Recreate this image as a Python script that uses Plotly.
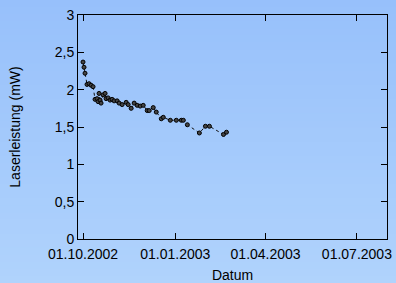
import plotly.graph_objects as go
import datetime as dt

# ---- data ----
start = dt.date(2002, 10, 1)
day_offsets = [0, 1, 2, 4, 6, 8, 10, 12, 14, 15, 16, 17, 18, 20, 22, 23, 25, 27, 29,
               31, 34, 36, 39, 43, 45, 48, 51, 54, 57, 60, 64, 66, 70, 73, 78, 80,
               87, 93, 98, 100, 104, 116, 122, 126, 140, 143]
power_mw = [2.37, 2.30, 2.22, 2.07, 2.08, 2.06, 2.04, 1.87, 1.88, 1.84, 1.95, 1.86,
            1.82, 1.93, 1.95, 1.88, 1.89, 1.86, 1.87, 1.85, 1.85, 1.82, 1.80, 1.83,
            1.80, 1.75, 1.82, 1.79, 1.78, 1.79, 1.72, 1.72, 1.76, 1.70, 1.61, 1.63,
            1.59, 1.59, 1.59, 1.59, 1.53, 1.42, 1.51, 1.51, 1.40, 1.43]
dates = [start + dt.timedelta(days=d) for d in day_offsets]

x_tickvals = ["2002-10-01", "2003-01-01", "2003-04-01", "2003-07-01"]
x_ticktext = ["01.10.2002", "01.01.2003", "01.04.2003", "01.07.2003"]
y_tickvals = [0, 0.5, 1, 1.5, 2, 2.5, 3]
y_ticktext = ["0", "0,5", "1", "1,5", "2", "2,5", "3"]

fig = go.Figure()
fig.add_trace(go.Scatter(
    x=dates, y=power_mw, mode="lines+markers",
    line=dict(color="#111111", width=1, dash="3px,3px"),
    marker=dict(symbol="circle", size=4, color="#444444",
                line=dict(color="#000000", width=1)),
    showlegend=False,
))

# vertical gradient background
W, H = 396, 283
ml, mr, mt, mb = 78, 9, 15, 44
ph = H - mt - mb
top_c = (0x97, 0xc0, 0xfb)
bot_c = (0xb0, 0xd3, 0xfc)
n = 40
shapes = []
for i in range(n):
    p0 = i * H / n
    p1 = (i + 1) * H / n + 0.6
    t = (i + 0.5) / n
    c = tuple(round(top_c[k] + (bot_c[k] - top_c[k]) * t) for k in range(3))
    y_top = 1 + (mt - p0) / ph
    y_bot = 1 + (mt - p1) / ph
    shapes.append(dict(type="rect", xref="paper", yref="paper",
                       x0=-ml / (W - ml - mr) - 0.01, x1=1 + mr / (W - ml - mr) + 0.01,
                       y0=y_bot, y1=y_top, line=dict(width=0),
                       fillcolor="rgb(%d,%d,%d)" % c, layer="below"))

font = "Liberation Sans, Arial, Helvetica, sans-serif"
fig.update_layout(
    width=W, height=H,
    margin=dict(l=ml, r=mr, t=mt, b=mb),
    paper_bgcolor="rgb(164,202,251)",
    plot_bgcolor="rgba(0,0,0,0)",
    shapes=shapes,
    font=dict(family=font, size=14, color="#000000"),
    xaxis=dict(
        range=["2002-09-26", "2003-07-31"],
        tickvals=x_tickvals, ticktext=x_ticktext,
        ticks="inside", ticklen=6, tickwidth=1, tickcolor="#000",
        showline=True, linecolor="#000", linewidth=1, mirror="ticks",
        showgrid=False, zeroline=False, automargin=False,
        ticklabelstandoff=2,
        title=dict(text="Datum", standoff=14, font=dict(size=14)),
        tickfont=dict(size=14),
    ),
    yaxis=dict(
        range=[0, 3],
        tickvals=y_tickvals, ticktext=y_ticktext,
        ticks="inside", ticklen=6, tickwidth=1, tickcolor="#000",
        showline=True, linecolor="#000", linewidth=1, mirror="ticks",
        showgrid=False, zeroline=False, automargin=False,
        title=dict(text="Laserleistung (mW)", standoff=30, font=dict(size=14)),
        tickfont=dict(size=14),
    ),
)

fig.write_html(
    "out.html",
    config={"displayModeBar": False},
    post_script="document.body.style.margin='0';document.body.style.overflow='hidden';",
)
